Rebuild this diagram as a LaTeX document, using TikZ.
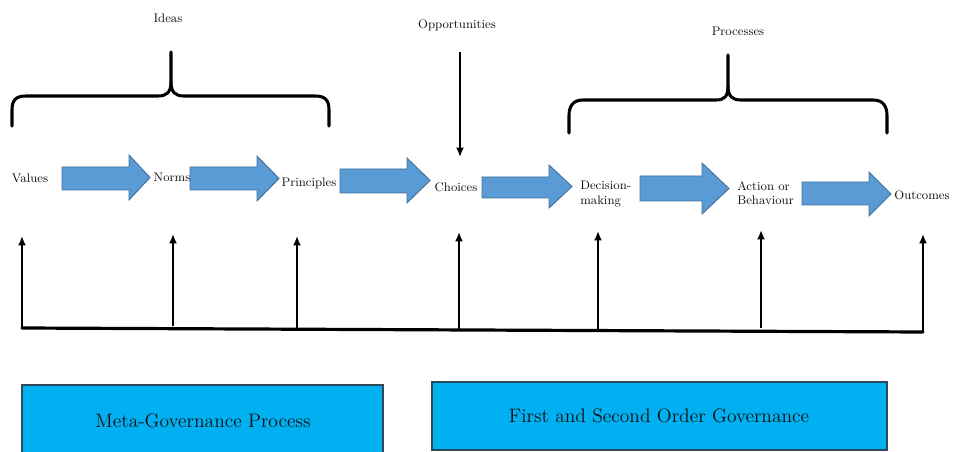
\documentclass[tikz,border=0pt]{standalone}
\usetikzlibrary{arrows.meta}
\definecolor{flowblue}{HTML}{5B9BD5}
\definecolor{flowedge}{HTML}{41719C}
\definecolor{govblue}{HTML}{00B0F0}
\definecolor{govedge}{HTML}{2E4A5A}
\definecolor{ink}{HTML}{111111}
% block arrow: #1 left x, #2 head start x, #3 tip x, #4 body top, #5 body bottom, #6 head top, #7 head bottom
\newcommand{\flowarrow}[7]{%
  \path[flowshape] (#1,#4) -- (#2,#4) -- (#2,#6) -- (#3,{(#6+#7)/2}) -- (#2,#7) -- (#2,#5) -- (#1,#5) -- cycle;}
\tikzset{
  flowshape/.style={fill=flowblue, draw=flowedge, line width=0.7pt},
  lbl/.style={font=\rmfamily\fontsize{9.3}{11}\selectfont, text=ink, inner sep=0pt},
  govbox/.style={fill=govblue, draw=govedge, line width=0.9pt},
  govtext/.style={font=\rmfamily\fontsize{14.6}{16}\selectfont, text=ink, inner sep=0pt},
  brace/.style={line width=2.3pt, line cap=round, line join=round},
  uparrow/.style={line width=1.6pt, -{Latex[length=7pt,width=6pt]}},
  baseline/.style={line width=2.4pt, line cap=round}
}
\begin{document}
\begin{tikzpicture}[x=0.75pt, y=-0.75pt]
\useasboundingbox (0,0) rectangle (953,452);
\clip (0,0) rectangle (953,452);

% group labels
\node[lbl] (ideas) at (168,18) {Ideas};
\node[lbl] (opps) at (457,25) {Opportunities};
\node[lbl] (procs) at (738,31) {Processes};

% curly braces
\draw[brace] (12,126) -- (12,110) .. controls (12,100) and (16,96) .. (26,96)
  -- (158,96) .. controls (167,96) and (171,92) .. (171,82) -- (171,52);
\draw[brace] (329,126) -- (329,110) .. controls (329,100) and (325,96) .. (315,96)
  -- (184,96) .. controls (175,96) and (171,92) .. (171,82);
\draw[brace] (569,133) -- (569,116) .. controls (569,106) and (573,100) .. (583,100)
  -- (716,100) .. controls (725,100) and (728,96) .. (728,86) -- (728,55);
\draw[brace] (887,133) -- (887,116) .. controls (887,106) and (883,100) .. (873,100)
  -- (741,100) .. controls (732,100) and (728,96) .. (728,86);

% stage labels
\node[lbl] (values) at (30,178) {Values};
\node[lbl] (norms) at (172,177) {Norms};
\node[lbl] (principles) at (309,183) {Principles};
\node[lbl] (choices) at (456,187) {Choices};
\node[lbl, anchor=west, align=left] (decision) at (580,194) {Decision-\\making};
\node[lbl, anchor=west, align=left] (action) at (737,193) {Action or\\Behaviour};
\node[lbl] (outcomes) at (922,195) {Outcomes};

% opportunities feed into choices
\coordinate (oppstart) at (460,52);
\coordinate (oppend) at (460,157);
\draw[line width=1.6pt, -{Latex[length=7pt,width=6pt]}] (oppstart) -- (oppend);

% block arrows between stages
\flowarrow{62}{129}{150}{167}{190}{155}{200}
\flowarrow{190}{257}{279}{167}{190}{156}{201}
\flowarrow{340}{407}{430}{169}{193}{158}{203}
\flowarrow{482}{549}{572}{177}{198}{165}{208}
\flowarrow{640}{702}{729}{176}{201}{163}{214}
\flowarrow{802}{869}{891}{182}{205}{172}{216}

% feedback baseline
\coordinate (b1) at (22,328);
\coordinate (b7) at (923,332);
\draw[baseline] (b1) -- (b7);

% upward arrows from the baseline
\coordinate (u1) at (22,236);
\coordinate (s2) at (173,326);  \coordinate (u2) at (173,234);
\coordinate (s3) at (297,329);  \coordinate (u3) at (297,236);
\coordinate (s4) at (459,330);  \coordinate (u4) at (459,232);
\coordinate (s5) at (598,331);  \coordinate (u5) at (598,231);
\coordinate (s6) at (761,328);  \coordinate (u6) at (761,230);
\coordinate (u7) at (923,234);
\draw[uparrow] (b1) -- (u1);
\draw[uparrow] (s2) -- (u2);
\draw[uparrow] (s3) -- (u3);
\draw[uparrow] (s4) -- (u4);
\draw[uparrow] (s5) -- (u5);
\draw[uparrow] (s6) -- (u6);
\draw[uparrow] (b7) -- (u7);

% governance boxes
\draw[govbox] (22,385) rectangle (383,460);
\node[govtext] (meta) at (203,421) {Meta-Governance Process};
\draw[govbox] (432,382) rectangle (887,450);
\node[govtext] (firstsecond) at (659,416) {First and Second Order Governance};
\end{tikzpicture}
\end{document}
